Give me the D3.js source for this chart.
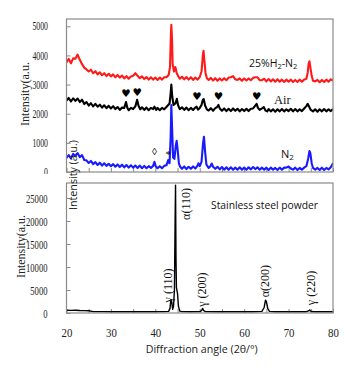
<!DOCTYPE html>
<html>
<head>
<meta charset="utf-8">
<script src="https://cdn.jsdelivr.net/npm/d3@7"></script>
<style>
  body { margin: 0; background: #fff; }
  svg { display: block; }
</style>
</head>
<body>
<svg id="chart" width="345" height="373"></svg>
<script>
// ---- data ----
const h2n2 = [
  [20,3760],[20.5,3880],[21,3730],[21.5,3900],[22,3890],[22.5,4030],[23,3850],[23.5,3700],[24,3580],[24.5,3520],
  [25,3450],[25.5,3510],[26,3390],[26.5,3460],[27,3350],[27.5,3420],[28,3320],[28.5,3390],[29,3290],[29.5,3370],
  [30,3280],[30.5,3350],[31,3250],[31.5,3330],[32,3240],[32.5,3310],[33,3210],[33.5,3290],[34,3200],[34.5,3280],
  [35,3300],[35.5,3390],[36,3300],[36.5,3220],[37,3280],[37.5,3190],[38,3260],[38.5,3170],[39,3250],[39.5,3170],
  [40,3240],[40.5,3160],[41,3240],[41.5,3170],[42,3250],[42.5,3250],[43,3330],[43.3,3600],[43.5,4700],[43.6,5050],
  [43.75,4600],[43.9,3700],[44.2,3450],[44.5,3600],[44.8,3400],[45.2,3280],[45.5,3200],[46,3270],[46.5,3180],[47,3260],
  [47.5,3170],[48,3250],[48.5,3160],[49,3240],[49.5,3170],[50,3260],[50.4,3450],[50.7,4000],[50.85,4160],[51,3900],
  [51.3,3400],[51.6,3220],[52,3160],[52.5,3230],[53,3140],[53.5,3220],[54,3130],[54.5,3210],[55,3140],[55.5,3220],
  [56,3150],[56.5,3240],[57,3250],[57.5,3290],[58,3180],[58.5,3160],[59,3210],[59.5,3130],[60,3210],[60.5,3140],
  [61,3210],[61.5,3150],[62,3230],[62.5,3250],[63,3250],[63.5,3150],[64,3150],[64.5,3200],[65,3110],[65.5,3190],
  [66,3110],[66.5,3180],[67,3100],[67.5,3180],[68,3100],[68.5,3170],[69,3090],[69.5,3170],[70,3100],[70.5,3170],
  [71,3090],[71.5,3160],[72,3090],[72.5,3170],[73,3100],[73.5,3170],[74,3200],[74.3,3400],[74.5,3700],[74.7,3800],
  [74.9,3600],[75.2,3300],[75.5,3130],[76,3110],[76.5,3160],[77,3080],[77.5,3160],[78,3090],[78.5,3170],[79,3100],
  [79.5,3180],[80,3140]
];

const air = [
  [20,2450],[20.5,2540],[21,2420],[21.5,2530],[22,2440],[22.5,2520],[23,2400],[23.5,2480],[24,2330],[24.5,2400],
  [25,2280],[25.5,2360],[26,2250],[26.5,2340],[27,2240],[27.5,2310],[28,2210],[28.5,2290],[29,2190],[29.5,2270],
  [30,2180],[30.5,2260],[31,2160],[31.5,2230],[32,2130],[32.5,2210],[33,2200],[33.4,2400],[33.7,2200],[34,2120],
  [34.5,2200],[35,2160],[35.5,2250],[35.9,2480],[36.2,2280],[36.6,2150],[37,2220],[37.5,2130],[38,2210],[38.5,2120],
  [39,2200],[39.5,2160],[39.8,2240],[40.2,2130],[40.5,2200],[41,2120],[41.5,2200],[42,2150],[42.5,2230],[42.8,2280],
  [43.2,2350],[43.45,2700],[43.6,3000],[43.8,2600],[44.1,2300],[44.5,2350],[44.85,2510],[45.1,2300],[45.5,2160],[46,2220],
  [46.5,2130],[47,2210],[47.5,2120],[48,2200],[48.5,2130],[49,2210],[49.3,2240],[49.6,2140],[50,2200],[50.4,2300],
  [50.7,2480],[50.9,2500],[51.2,2280],[51.6,2150],[52,2110],[52.5,2190],[53,2100],[53.5,2190],[53.9,2230],[54.2,2300],
  [54.5,2180],[55,2100],[55.5,2180],[56,2090],[56.5,2170],[57,2090],[57.5,2180],[58,2100],[58.5,2170],[59,2080],
  [59.5,2160],[60,2090],[60.5,2170],[61,2090],[61.5,2170],[62,2180],[62.5,2280],[62.8,2340],[63.1,2200],[63.5,2130],
  [64,2180],[64.4,2230],[64.8,2110],[65.2,2080],[65.5,2160],[66,2080],[66.5,2150],[67,2070],[67.5,2150],[68,2080],
  [68.5,2160],[69,2080],[69.5,2150],[70,2090],[70.5,2170],[71,2080],[71.5,2160],[72,2080],[72.5,2150],[73,2090],
  [73.5,2180],[74,2260],[74.3,2340],[74.6,2250],[75,2130],[75.5,2080],[76,2150],[76.5,2070],[77,2150],[77.5,2080],
  [78,2160],[78.5,2080],[79,2150],[79.5,2090],[80,2160]
];

const n2 = [
  [20,490],[20.5,580],[21,470],[21.5,620],[22,550],[22.5,650],[23,510],[23.5,580],[24,410],[24.5,400],
  [25,310],[25.5,380],[26,270],[26.5,340],[27,240],[27.5,320],[28,220],[28.5,300],[29,210],[29.5,280],
  [30,200],[30.5,270],[31,180],[31.5,260],[32,170],[32.5,250],[33,160],[33.5,240],[34,150],[34.5,230],
  [35,150],[35.5,220],[36,140],[36.5,220],[37,130],[37.5,210],[38,130],[38.5,200],[39,140],[39.5,210],
  [39.8,350],[40.1,190],[40.5,130],[41,200],[41.5,130],[42,210],[42.5,230],[42.9,410],[43.2,300],[43.45,1200],
  [43.6,2300],[43.8,1400],[44,500],[44.3,450],[44.6,900],[44.8,1070],[45,800],[45.3,300],[45.6,180],[46,110],
  [46.5,190],[47,100],[47.5,180],[48,110],[48.5,190],[49,120],[49.5,220],[49.7,300],[50,200],[50.4,350],
  [50.75,1000],[50.95,1210],[51.2,700],[51.5,250],[52,140],[52.4,200],[52.7,290],[53,180],[53.5,110],[54,180],
  [54.5,90],[55,170],[55.5,80],[56,160],[56.5,80],[57,160],[57.5,80],[58,150],[58.5,80],[59,160],
  [59.5,80],[60,150],[60.5,80],[61,160],[61.5,90],[62,170],[62.5,100],[63,160],[63.5,80],[64,150],
  [64.5,80],[65,150],[65.5,70],[66,150],[66.5,80],[67,140],[67.5,70],[68,150],[68.5,80],[69,150],
  [69.5,150],[70,190],[70.5,120],[71,80],[71.5,150],[72,70],[72.5,140],[73,80],[73.5,150],[74,200],
  [74.4,450],[74.7,720],[74.9,650],[75.2,300],[75.5,140],[76,80],[76.5,140],[77,70],[77.5,150],[78,70],
  [78.5,140],[79,90],[79.5,160],[80,300]
];

const powder = [
  [20,600],[21,560],[22,610],[23,540],[24,520],[25,480],[26,300],[28,290],[30,280],[33,270],[36,270],[39,280],
  [42,290],[43,350],[43.3,1000],[43.5,2900],[43.7,2400],[43.9,800],[44.1,1500],[44.3,5000],[44.45,20000],[44.55,27800],
  [44.65,12000],[44.75,5500],[45,4200],[45.2,1500],[45.5,400],[46,300],[48,280],[50,300],[50.4,500],[50.65,1000],
  [50.9,500],[51.3,300],[54,270],[58,260],[62,270],[64,350],[64.5,1200],[64.8,2800],[65,2500],[65.3,1000],[65.7,350],
  [67,280],[70,260],[74,280],[74.5,450],[74.75,650],[75,400],[75.5,270],[78,260],[80,260]
];

const topTicks = [0, 1000, 2000, 3000, 4000, 5000];
const bottomTicks = [0, 5000, 10000, 15000, 20000, 25000];
const angleTicks = [20, 25, 30, 35, 40, 45, 50, 55, 60, 65, 70, 75, 80];

// labels
const hearts = [33.4, 35.9, 49.4, 54.2, 62.8];
const heartLevel = [2720, 2750, 2610, 2610, 2610];
const peakLabels = [
  { text: "γ (110)", angle: 42.85, value: 5980 },
  { text: "α(110)", angle: 46.9, value: 23700 },
  { text: "γ (200)", angle: 50.4, value: 5100 },
  { text: "α(200)", angle: 64.7, value: 6950 },
  { text: "γ (220)", angle: 75.0, value: 5430 }
];

// ---- layout ----
const svg = d3.select("#chart");
const left = 66.5, right = 333;
const frame = "#8a8a8a";
const serif = "'Liberation Serif', 'Times New Roman', serif";
const sans = "'Open Sans', 'Liberation Sans', sans-serif";

const x = d3.scaleLinear().domain([20, 80]).range([left, right]);
const yTop = d3.scaleLinear().domain([0, 5250]).range([172, 19]);
const yBot = d3.scaleLinear().domain([0, 28260]).range([313, 183]);

const defs = svg.append("defs");
defs.append("clipPath").attr("id", "clipTop").append("rect")
  .attr("x", left).attr("y", 19).attr("width", right - left).attr("height", 153);
defs.append("clipPath").attr("id", "clipBot").append("rect")
  .attr("x", left).attr("y", 183).attr("width", right - left).attr("height", 130);

function squash(sel, perChar) {
  sel.each(function () {
    const t = d3.select(this);
    const s = t.text();
    if (s) t.attr("textLength", s.length * perChar).attr("lengthAdjust", "spacingAndGlyphs");
  });
}

// ---- top panel ----
const topPanel = svg.append("g");

const yAxisTop = topPanel.append("g")
  .attr("transform", `translate(${left},0)`)
  .call(d3.axisLeft(yTop).tickValues(topTicks).tickSize(-4).tickPadding(18.5).tickFormat(d3.format("d")));
yAxisTop.select(".domain").remove();
yAxisTop.selectAll("line").attr("stroke", frame);
yAxisTop.selectAll("text").attr("font-family", serif).attr("font-size", 11.5).attr("fill", "#222")
  .call(squash, 3.9);

const xAxisTop = topPanel.append("g")
  .attr("transform", "translate(0,172)")
  .call(d3.axisBottom(x).tickValues(angleTicks).tickSize(-4).tickFormat(""));
xAxisTop.select(".domain").remove();
xAxisTop.selectAll("line").attr("stroke", frame);

const lineTop = d3.line().x(d => x(d[0])).y(d => yTop(d[1]));
const topCurves = topPanel.append("g").attr("clip-path", "url(#clipTop)");
topCurves.append("path").datum(h2n2).attr("d", lineTop)
  .attr("fill", "none").attr("stroke", "#ff1a1a").attr("stroke-width", 2.1).attr("stroke-linejoin", "round");
topCurves.append("path").datum(air).attr("d", lineTop)
  .attr("fill", "none").attr("stroke", "#000").attr("stroke-width", 2.1).attr("stroke-linejoin", "round");
topCurves.append("path").datum(n2).attr("d", lineTop)
  .attr("fill", "none").attr("stroke", "#1a1aff").attr("stroke-width", 2.1).attr("stroke-linejoin", "round");

topPanel.append("rect")
  .attr("x", left).attr("y", 19).attr("width", right - left).attr("height", 153)
  .attr("fill", "none").attr("stroke", frame).attr("stroke-width", 1.2);

// marks over peaks
topPanel.selectAll(".heart").data(hearts).join("text")
  .attr("x", (d) => x(d)).attr("y", (d, i) => yTop(heartLevel[i]))
  .attr("text-anchor", "middle").attr("dominant-baseline", "central")
  .attr("font-family", "'DejaVu Sans', sans-serif").attr("font-size", 10.5).attr("fill", "#000")
  .text("♥");
topPanel.append("text").attr("x", x(39.8)).attr("y", yTop(690)).attr("text-anchor", "middle")
  .attr("dominant-baseline", "central").attr("font-family", serif).attr("font-size", 10).text("◊");
topPanel.append("text").attr("x", x(42.9)).attr("y", yTop(620)).attr("text-anchor", "middle")
  .attr("dominant-baseline", "central").attr("font-family", serif).attr("font-size", 11).text("*");

const lblH2 = topPanel.append("text").attr("x", 249).attr("y", 66.7)
  .attr("font-family", sans).attr("font-size", 10.5).attr("fill", "#111");
lblH2.append("tspan").text("25%H");
lblH2.append("tspan").attr("font-size", 7.5).attr("dy", 2).text("2");
lblH2.append("tspan").attr("dy", -2).text("-N");
lblH2.append("tspan").attr("font-size", 7.5).attr("dy", 2).text("2");

topPanel.append("text").attr("x", 274).attr("y", 104)
  .attr("font-family", serif).attr("font-size", 12.5).attr("fill", "#111").text("Air");

const lblN2 = topPanel.append("text").attr("x", 281).attr("y", 158)
  .attr("font-family", sans).attr("font-size", 11).attr("fill", "#111");
lblN2.append("tspan").text("N");
lblN2.append("tspan").attr("font-size", 8).attr("dy", 2).text("2");

topPanel.append("text")
  .attr("transform", "translate(29,126) rotate(-90)")
  .attr("font-family", serif).attr("font-size", 12).attr("fill", "#222")
  .attr("textLength", 64).attr("lengthAdjust", "spacingAndGlyphs")
  .text("Intensity(a.u.");

// white band between panels hides the lower half of the top "0"
svg.append("rect").attr("x", 0).attr("y", 174).attr("width", 66).attr("height", 9).attr("fill", "#fff");

// ---- bottom panel ----
const botPanel = svg.append("g");

const yAxisBot = botPanel.append("g")
  .attr("transform", `translate(${left},0)`)
  .call(d3.axisLeft(yBot).tickValues(bottomTicks).tickSize(-4).tickPadding(19).tickFormat(d3.format("d")));
yAxisBot.select(".domain").remove();
yAxisBot.selectAll("line").attr("stroke", frame);
yAxisBot.selectAll("text").attr("font-family", serif).attr("font-size", 13).attr("fill", "#222")
  .call(squash, 4.3);

const xAxisBot = botPanel.append("g")
  .attr("transform", "translate(0,313)")
  .call(d3.axisBottom(x).tickValues(angleTicks).tickSize(-4).tickPadding(14.8)
    .tickFormat(d => d % 10 === 0 ? d : ""));
xAxisBot.select(".domain").remove();
xAxisBot.selectAll("line").attr("stroke", frame);
xAxisBot.selectAll("text").attr("font-family", serif).attr("font-size", 12.5).attr("fill", "#222")
  .call(squash, 5.4);

const lineBot = d3.line().x(d => x(d[0])).y(d => yBot(d[1]));
botPanel.append("g").attr("clip-path", "url(#clipBot)")
  .append("path").datum(powder).attr("d", lineBot)
  .attr("fill", "none").attr("stroke", "#000").attr("stroke-width", 1.4).attr("stroke-linejoin", "round");

botPanel.append("rect")
  .attr("x", left).attr("y", 183).attr("width", right - left).attr("height", 130)
  .attr("fill", "none").attr("stroke", frame).attr("stroke-width", 1.2);

botPanel.selectAll(".peak").data(peakLabels).join("text")
  .attr("transform", d => `translate(${x(d.angle) + 4},${yBot(d.value)}) rotate(-90)`)
  .attr("text-anchor", "middle")
  .attr("font-family", serif).attr("font-size", 12).attr("fill", "#111")
  .text(d => d.text);

botPanel.append("text").attr("x", 211).attr("y", 209)
  .attr("font-family", sans).attr("font-size", 11.5).attr("fill", "#111")
  .attr("textLength", 107).attr("lengthAdjust", "spacingAndGlyphs")
  .text("Stainless steel powder");

botPanel.append("text")
  .attr("transform", "translate(25,278) rotate(-90)")
  .attr("font-family", serif).attr("font-size", 12).attr("fill", "#222")
  .attr("textLength", 63).attr("lengthAdjust", "spacingAndGlyphs")
  .text("Intensity(a.u.");

botPanel.append("text").attr("x", 145.7).attr("y", 352.7)
  .attr("font-family", sans).attr("font-size", 11.5).attr("fill", "#222")
  .attr("textLength", 112).attr("lengthAdjust", "spacingAndGlyphs")
  .text("Diffraction angle (2θ/°)");

// stray axis title left over in the original figure
svg.append("text")
  .attr("transform", "translate(77,210) rotate(-90)")
  .attr("font-family", sans).attr("font-size", 10.5).attr("fill", "#222")
  .attr("textLength", 70).attr("lengthAdjust", "spacingAndGlyphs")
  .text("Intensity (a.u.)");
</script>
</body>
</html>
